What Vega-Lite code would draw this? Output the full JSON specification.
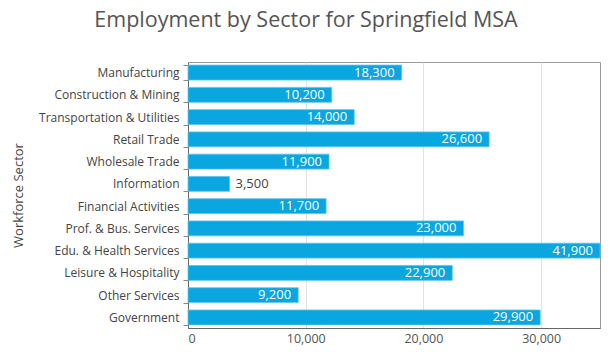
{
  "$schema": "https://vega.github.io/schema/vega-lite/v6.json",
  "autosize": {"type": "none"},
  "width": 412,
  "height": 266,
  "padding": {"left": 188, "top": 62, "right": 13, "bottom": 33},
  "background": "white",
  "config": {
    "font": "Open Sans",
    "view": {"stroke": "#999", "strokeWidth": 1}
  },
  "title": {
    "text": "Employment by Sector for Springfield MSA",
    "fontSize": 21.5,
    "fontWeight": "normal",
    "color": "#555",
    "anchor": "middle",
    "frame": "group",
    "dx": -88,
    "offset": 25
  },
  "data": {
    "values": [
      {"sector": "Manufacturing", "employees": 18150, "label": "18,300"},
      {"sector": "Construction & Mining", "employees": 12210, "label": "10,200"},
      {"sector": "Transportation & Utilities", "employees": 14120, "label": "14,000"},
      {"sector": "Retail Trade", "employees": 25580, "label": "26,600"},
      {"sector": "Wholesale Trade", "employees": 11980, "label": "11,900"},
      {"sector": "Information", "employees": 3530, "label": "3,500"},
      {"sector": "Financial Activities", "employees": 11730, "label": "11,700"},
      {"sector": "Prof. & Bus. Services", "employees": 23400, "label": "23,000"},
      {"sector": "Edu. & Health Services", "employees": 41900, "label": "41,900"},
      {"sector": "Leisure & Hospitality", "employees": 22450, "label": "22,900"},
      {"sector": "Other Services", "employees": 9360, "label": "9,200"},
      {"sector": "Government", "employees": 29920, "label": "29,900"}
    ]
  },
  "encoding": {
    "y": {
      "field": "sector",
      "type": "nominal",
      "sort": null,
      "scale": {"paddingInner": 0.33, "paddingOuter": 0.14},
      "axis": {
        "title": "Workforce Sector",
        "titleFontSize": 13,
        "titleFontWeight": "normal",
        "titleColor": "#444",
        "titlePadding": 13,
        "labelFontSize": 12,
        "labelColor": "#444",
        "labelPadding": 4,
        "tickBand": "extent",
        "tickColor": "#888",
        "tickSize": 5,
        "domainColor": "#666",
        "grid": false
      }
    },
    "x": {
      "field": "employees",
      "type": "quantitative",
      "scale": {"domain": [0, 35000], "clamp": true, "nice": false},
      "axis": {
        "title": null,
        "values": [0, 10000, 20000, 30000],
        "format": ",.0f",
        "labelFontSize": 12.5,
        "labelColor": "#555",
        "labelPadding": 4,
        "ticks": false,
        "domainColor": "#666",
        "gridColor": "#e2e2e2"
      }
    }
  },
  "layer": [
    {"mark": {"type": "bar", "color": "#0aa6df", "stroke": "#5cc3ec", "strokeWidth": 0.8}},
    {
      "transform": [{"filter": "datum.employees >= 5000"}],
      "mark": {"type": "text", "align": "right", "dx": -7, "color": "white", "fontSize": 13},
      "encoding": {"text": {"field": "label", "type": "nominal"}}
    },
    {
      "transform": [{"filter": "datum.employees < 5000"}],
      "mark": {"type": "text", "align": "left", "dx": 6, "color": "#444", "fontSize": 13},
      "encoding": {"text": {"field": "label", "type": "nominal"}}
    }
  ]
}
